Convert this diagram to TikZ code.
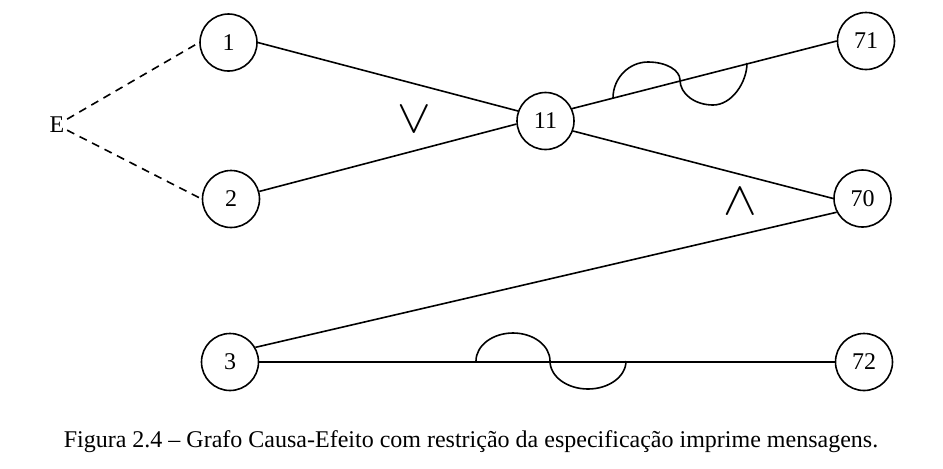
\documentclass[tikz,border=0pt]{standalone}
\usepackage{fontspec}
\setmainfont{Liberation Serif}

\begin{document}
\begin{tikzpicture}[x=0.5pt, y=-0.5pt, line width=0.8pt, font=\fontsize{12}{14}\selectfont,
        main/.style = {draw, circle, inner sep = 0pt, minimum size = 28.5pt},
        gate/.style = {inner sep = 0pt}]
                \useasboundingbox (0,0) rectangle (943,468);

                \node[inner sep = 1pt] (E) at (57,125) {E};
                \node[main] (1) at (228.5,42.5) {1};
                \node[main] (2) at (231,199) {2};
                \node[main] (3) at (230,362) {3};
                \node[main] (11) at (545.5,121) {11};
                \node[main] (71) at (866,41) {71};
                \node[main] (70) at (862.5,198.5) {70};
                \node[main] (72) at (864,362) {72};

                \node[gate] (or) at (414,119) {\scalebox{2.1}[1.95]{$\vee$}};
                \node[gate] (and) at (740.5,201) {\scalebox{2.1}[1.95]{$\wedge$}};

                \draw[dash pattern = on 4pt off 3pt] (E) -- (1.west);
                \draw[dash pattern = on 4pt off 3pt] (E) -- (2.west);

                \draw (1.east) -- (11.160);
                \draw (2.15) -- (11.186);
                \draw (11.25) -- (71.west);
                \draw (11.-20) -- (70.west);
                \draw (3.30) -- (70.208);
                \draw (3.east) -- (72.west);

                % restricao
                \draw (613,98) .. controls (613,78) and (629,62) .. (648,62)
                               .. controls (666,62) and (680,70) .. (680,80)
                               .. controls (680,94) and (695,105) .. (713,105)
                               .. controls (732,105) and (747,82) .. (747,63);
                \draw (476,361) arc[start angle = 180, end angle = 360, x radius = 37, y radius = 28]
                                arc[start angle = 180, end angle = 0, x radius = 38, y radius = 28];

                \node[anchor = base] (caption) at (471,447) {Figura 2.4 -- Grafo Causa-Efeito com restrição da especificação imprime mensagens.};
            \end{tikzpicture}
\end{document}
